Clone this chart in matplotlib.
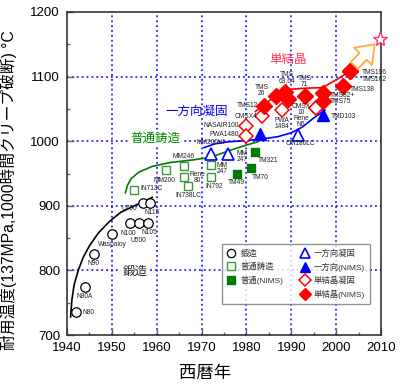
import matplotlib
matplotlib.use('Agg')
import matplotlib.pyplot as plt
from matplotlib.patches import FancyArrowPatch
from matplotlib.lines import Line2D

plt.rcParams['font.family'] = ['Liberation Sans', 'Noto Sans CJK JP', 'DejaVu Sans']

# ---------------- data ----------------
forged_names = ['N80', 'N80A', 'N90', 'Waspaloy', 'N100', 'U500', 'N105', 'U700', 'N115']
forged_year = [1942, 1944, 1946, 1950, 1954, 1956, 1958, 1957, 1958.5]
forged_temp = [735, 775, 825, 856, 873, 873, 874, 905, 904]

cast_names = ['IN713C', 'MM200', 'MM246', 'Rene\n80', 'IN738LC', 'MM\n247', 'IN792']
cast_year = [1955, 1962, 1966, 1966, 1967, 1972, 1972]
cast_temp = [924, 955, 961, 945, 931, 963, 945]

castn_names = ['TM49', 'TM70', 'TM321']
castn_year = [1978, 1981, 1982]
castn_temp = [950, 959, 984]

ds_names = ['MM200Hf', 'MM\n247', 'CM186LC']
ds_year = [1972, 1976, 1991.5]
ds_temp = [980, 980, 1010]

dsn_names = ['', 'TMD103']
dsn_year = [1983, 1997]
dsn_temp = [1011, 1040]

sx_names = ['NASAIR100', 'PWA1480', 'CMSX4', 'PWA\n1484', 'CMSX\n10', 'Rene\nN6']
sx_year = [1980, 1980, 1983.5, 1988, 1995.5, 1995.5]
sx_temp = [1024, 1008, 1039, 1049, 1051, 1051]

sxn_names = ['TMS12', 'TMS\n26', 'TMS\n63,64', '', 'TMS\n71', 'TMS82+', 'TMS75',
             'TMS138', 'TMS196', 'TMS162']
sxn_year = [1984, 1986.5, 1988.5, 1989.2, 1993, 1997, 1997, 2001.5, 2003, 2003]
sxn_temp = [1055, 1070, 1076, 1066, 1070, 1075, 1063, 1086, 1108, 1108]

# guide curves
forged_curve_year = [1940.8, 1941.1, 1941.6, 1942.5, 1943.6, 1945, 1947, 1949.5, 1952, 1955, 1959]
forged_curve_temp = [728, 755, 778, 800, 820, 838, 858, 876, 890, 900, 913]
cast_curve_year = [1953, 1953.5, 1954.3, 1956, 1959, 1963, 1968, 1972, 1976, 1980, 1982.5]
cast_curve_temp = [920, 932, 942, 952, 961, 967, 971, 975, 985, 994, 999]
ds_curve_year = [1970.5, 1973, 1976, 1980, 1983, 1987, 1990, 1992.5, 1995, 1997.5]
ds_curve_temp = [990, 996, 999, 1001, 1003, 1007, 1013, 1022, 1036, 1048]
sx_curve_year = [1982, 1984, 1986.5, 1989, 1993, 1997, 2000.5, 2003]
sx_curve_temp = [1046, 1057, 1070, 1080, 1082, 1083, 1097, 1108]

future_year = [2003.6, 2009.0]
future_temp = [1114, 1153]
target_year = 2009.7
target_temp = 1158

# ---------------- label placement (pixels: dx right, dy down) ----------------
forged_off = [(7, 0, 'left'), (0, 10, 'center'), (0, 9.5, 'center'), (1, 10, 'center'),
              (-1, 10, 'center'), (0, 17, 'center'), (2, 10, 'center'), (-14, 6, 'center'),
              (2, 9, 'center')]
cast_off = [(6, -2, 'left'), (-1, 10, 'center'), (0, -10, 'center'), (6, 1, 'left'),
            (0, 10, 'center'), (6, 3, 'left'), (4, 10, 'center')]
castn_off = [(-1, 9.5, 'center'), (9.5, 9.5, 'center'), (12.5, 9, 'center')]
ds_off = [(0, -12, 'center'), (8, 2, 'left'), (2, 9, 'center')]
dsn_off = [(0, 0, 'center'), (8, 1, 'left')]
sx_off = [(-8, 0, 'right'), (-8, -1.5, 'right'), (-5, 0, 'right'), (0, 13.5, 'center'),
          (-15, 1, 'center'), (-15, 13, 'center')]
sxn_off = [(-6, 0, 'right'), (-14, -5, 'center'), (2, -15, 'center'), (0, 0, 'center'),
           (0, -14, 'center'), (7, 3, 'left'), (7, 1, 'left'), (7, 4, 'left'),
           (12, 1, 'left'), (12, 8, 'left')]

GREEN_L = '#3a9a3a'
GREEN_D = '#007a00'
BLUE = '#0000ff'
RED = '#ff0000'

fig = plt.figure(figsize=(4.0, 3.87), dpi=100)
ax = fig.add_axes([67 / 400, 52 / 387, 314 / 400, 323 / 387])
ax.set_xlim(1940, 2010)
ax.set_ylim(700, 1200)

# grid
for gx in [1950, 1960, 1970, 1980, 1990, 2000]:
    ax.axvline(gx, color=BLUE, ls=(0, (1.2, 2.0)), lw=1.1, zorder=0.5)
for gy in [800, 900, 1000, 1100]:
    ax.axhline(gy, color=BLUE, ls=(0, (1.2, 2.0)), lw=1.1, zorder=0.5)

# curves
ax.plot(forged_curve_year, forged_curve_temp, color='black', lw=1.2, zorder=2)
ax.plot(cast_curve_year, cast_curve_temp, color=GREEN_D, lw=1.2, zorder=2)
ax.plot(ds_curve_year, ds_curve_temp, color=BLUE, lw=1.2, zorder=2)
ax.plot(sx_curve_year, sx_curve_temp, color=RED, lw=1.2, zorder=2)

# markers
ax.plot(forged_year, forged_temp, 'o', ms=6.8, mfc='white', mec='black', mew=0.9, ls='none', zorder=3)
ax.plot(cast_year, cast_temp, 's', ms=6.0, mfc='white', mec=GREEN_L, mew=1.0, ls='none', zorder=3)
ax.plot(castn_year, castn_temp, 's', ms=6.2, mfc=GREEN_D, mec=GREEN_D, ls='none', zorder=3)
ax.plot(ds_year, ds_temp, '^', ms=8.0, mfc='white', mec=BLUE, mew=1.2, ls='none', zorder=3)
ax.plot(dsn_year, dsn_temp, '^', ms=8.0, mfc=BLUE, mec=BLUE, ls='none', zorder=3)
ax.plot(sx_year, sx_temp, 'D', ms=7.0, mfc='white', mec=RED, mew=1.1, ls='none', zorder=3)
ax.plot(sxn_year, sxn_temp, 'D', ms=7.8, mfc=RED, mec=RED, ls='none', zorder=4)

def put_labels(names, xs, ys, offs):
    for n, x, y, (dx, dy, ha) in zip(names, xs, ys, offs):
        if not n:
            continue
        ax.annotate(n, (x, y), xytext=(dx, -dy), textcoords='offset pixels',
                    ha=ha, va='center', fontsize=4.8, multialignment='center',
                    color='#222222', linespacing=0.8, zorder=5)

put_labels(forged_names, forged_year, forged_temp, forged_off)
put_labels(cast_names, cast_year, cast_temp, cast_off)
put_labels(castn_names, castn_year, castn_temp, castn_off)
put_labels(ds_names, ds_year, ds_temp, ds_off)
put_labels(dsn_names, dsn_year, dsn_temp, dsn_off)
put_labels(sx_names, sx_year, sx_temp, sx_off)
put_labels(sxn_names, sxn_year, sxn_temp, sxn_off)

# future arrow and target star
arr = FancyArrowPatch((future_year[0], future_temp[0]), (future_year[1], future_temp[1]),
                      arrowstyle='simple,head_width=1.5,head_length=1.0,tail_width=0.6',
                      mutation_scale=12, fc='white', ec='#ffaa44', lw=1.3, zorder=4)
ax.add_patch(arr)
ax.plot([target_year], [target_temp], '*', ms=11, mfc='white', mec='#ff3366', mew=1.0,
        clip_on=False, zorder=6)

# category labels
ax.text(1989.3, 1126, '単結晶', color='#ff3355', fontsize=9, ha='center', va='center')
ax.text(1968.9, 1045, '一方向凝固', color=BLUE, fontsize=9, ha='center', va='center')
ax.text(1959.6, 1003, '普通鋳造', color='#008800', fontsize=9, ha='center', va='center',
        bbox=dict(fc='white', ec='none', pad=0.5))
ax.text(1955.2, 798, '鍛造', color='#222222', fontsize=9, ha='center', va='center',
        bbox=dict(fc='white', ec='none', pad=1.0))

# axes styling
ax.set_xticks(range(1940, 2011, 10))
ax.set_xticks(range(1945, 2011, 10), minor=True)
ax.set_yticks(range(700, 1201, 100))
ax.set_yticks(range(750, 1201, 100), minor=True)
ax.tick_params(which='major', direction='in', length=5, width=1.0, color='#666666',
               labelsize=9.5, pad=5)
ax.tick_params(which='minor', direction='in', length=2.5, width=1.0, color='#666666')
for s in ax.spines.values():
    s.set_linewidth(1.2)
    s.set_color('#333333')

ax.set_xlabel('西暦年', fontsize=12.5)
ax.xaxis.set_label_coords(0.44, -0.095)
ax.set_ylabel('耐用温度(137MPa,1000時間クリープ破断) °C', fontsize=11.3)
ax.yaxis.set_label_coords(-0.16, 0.45)

# legend
blank = Line2D([], [], ls='none', marker='None')
handles = [
    Line2D([], [], ls='none', marker='o', ms=6, mfc='white', mec='black', mew=0.9),
    Line2D([], [], ls='none', marker='s', ms=5.5, mfc='white', mec=GREEN_L, mew=1.0),
    Line2D([], [], ls='none', marker='s', ms=5.5, mfc=GREEN_D, mec=GREEN_D),
    blank,
    Line2D([], [], ls='none', marker='^', ms=7, mfc='white', mec=BLUE, mew=1.2),
    Line2D([], [], ls='none', marker='^', ms=7, mfc=BLUE, mec=BLUE),
    Line2D([], [], ls='none', marker='D', ms=6, mfc='white', mec=RED, mew=1.1),
    Line2D([], [], ls='none', marker='D', ms=6.5, mfc=RED, mec=RED),
]
labels = ['鍛造', '普通鋳造', '普通(NIMS)', '', '一方向凝固', '一方向(NIMS)', '単結晶凝固', '単結晶(NIMS)']
leg = ax.legend(handles, labels, ncol=2, loc='lower left',
                bbox_to_anchor=(0.494, 0.096, 0.471, 0.183), mode='expand',
                borderaxespad=0, fontsize=6, frameon=True, fancybox=False,
                handlelength=1.0, handletextpad=0.6, columnspacing=0.8,
                labelspacing=0.6, borderpad=0.6)
leg.get_frame().set_edgecolor('#777777')
leg.get_frame().set_linewidth(1.0)
for t in leg.get_texts():
    t.set_color('#333333')

fig.savefig('out.png', dpi=100)
